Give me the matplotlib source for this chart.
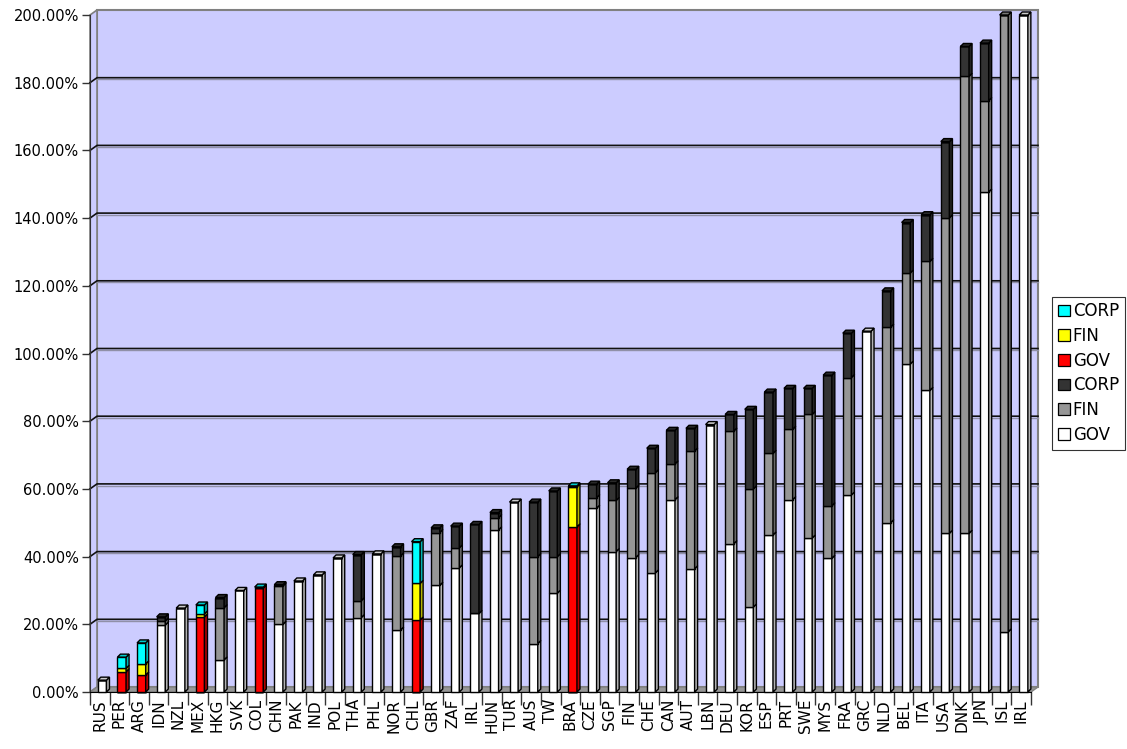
import numpy as np
import matplotlib
matplotlib.use("Agg")
import matplotlib.pyplot as plt
from matplotlib.patches import Polygon, Rectangle, Patch
from matplotlib.colors import to_rgb

plt.rcParams['font.family'] = ['DejaVu Sans']

#%% data (percent)
countries = ["RUS", "PER", "ARG", "IDN", "NZL", "MEX", "HKG", "SVK", "COL", "CHN",
             "PAK", "IND", "POL", "THA", "PHL", "NOR", "CHL", "GBR", "ZAF", "IRL",
             "HUN", "TUR", "AUS", "TW", "BRA", "CZE", "SGP", "FIN", "CHE", "CAN",
             "AUT", "LBN", "DEU", "KOR", "ESP", "PRT", "SWE", "MYS", "FRA", "GRC",
             "NLD", "BEL", "ITA", "USA", "DNK", "JPN", "ISL", "IRL"]

gov = [3.5, 0, 0, 19.8, 24.8, 0, 9.5, 30.0, 0, 20.0,
       32.8, 34.6, 39.6, 22.0, 40.8, 18.3, 0, 31.5, 36.7, 23.2,
       47.9, 56.1, 14.3, 29.2, 0, 54.3, 41.5, 39.7, 35.2, 56.8,
       36.4, 79.0, 43.8, 25.1, 46.4, 56.8, 45.5, 39.5, 58.2, 106.6,
       50.0, 96.9, 89.1, 46.9, 46.9, 147.7, 17.8, 200.0]
fin = [0, 0, 0, 1.2, 0, 0, 15.4, 0, 0, 11.3,
       0, 0, 0, 5.0, 0, 21.9, 0, 15.6, 5.9, 0,
       3.6, 0, 25.7, 10.8, 0, 3.1, 15.1, 20.5, 29.6, 10.6,
       34.8, 0, 33.3, 34.9, 24.1, 20.8, 36.5, 15.5, 34.7, 0,
       57.8, 26.9, 38.1, 93.2, 135.0, 27.0, 182.2, 0]
corp = [0, 0, 0, 1.2, 0, 0, 3.0, 0, 0, 0.4,
        0, 0, 0, 13.6, 0, 2.7, 0, 1.4, 6.4, 26.3,
        1.5, 0, 16.1, 19.4, 0, 4.0, 5.2, 5.6, 7.2, 9.9,
        6.7, 0, 4.9, 23.5, 18.1, 12.1, 7.7, 38.6, 13.1, 0,
        10.7, 14.9, 13.8, 22.5, 8.8, 17.0, 0, 0]

# highlighted countries
gov_hl = [0, 6.0, 5.0, 0, 0, 22.2, 0, 0, 30.7, 0,
          0, 0, 0, 0, 0, 0, 21.3, 0, 0, 0,
          0, 0, 0, 0, 48.8, 0, 0, 0, 0, 0,
          0, 0, 0, 0, 0, 0, 0, 0, 0, 0,
          0, 0, 0, 0, 0, 0, 0, 0]
fin_hl = [0, 1.0, 3.3, 0, 0, 0.9, 0, 0, 0, 0,
          0, 0, 0, 0, 0, 0, 10.8, 0, 0, 0,
          0, 0, 0, 0, 11.8, 0, 0, 0, 0, 0,
          0, 0, 0, 0, 0, 0, 0, 0, 0, 0,
          0, 0, 0, 0, 0, 0, 0, 0]
corp_hl = [0, 3.3, 6.2, 0, 0, 2.6, 0, 0, 0.3, 0,
           0, 0, 0, 0, 0, 0, 12.3, 0, 0, 0,
           0, 0, 0, 0, 0.3, 0, 0, 0, 0, 0,
           0, 0, 0, 0, 0, 0, 0, 0, 0, 0,
           0, 0, 0, 0, 0, 0, 0, 0]

series = [("GOV", gov, "#FFFFFF"), ("FIN", fin, "#969696"), ("CORP", corp, "#333333"),
          ("GOV", gov_hl, "#FF0000"), ("FIN", fin_hl, "#FFFF00"), ("CORP", corp_hl, "#00FFFF")]

#%% figure
fig = plt.figure(figsize=(11.27, 7.49), dpi=100)
W, H = 1127, 749
ax = fig.add_axes([90 / W, (H - 692) / H, 941 / W, 677 / H])
n = len(countries)
ax.set_xlim(-0.5, n - 0.5)
ax.set_ylim(0, 200)

# pixel -> data conversion
px_x = (n) / 941.0
px_y = 200 / 677.0
ox, oy = 7 * px_x, 5 * px_y      # wall depth
ddx, ddy = 3 * px_x, 3 * px_y    # bar depth

wall = "#CCCCFF"
ax.add_patch(Rectangle((-0.5 + ox, oy), n, 200, fc=wall, ec="#808080", lw=1.5,
                       zorder=0, clip_on=False))
ax.add_patch(Polygon([(-0.5, 0), (-0.5 + ox, oy), (-0.5 + ox, 200 + oy), (-0.5, 200)],
                     closed=True, fc=wall, ec="#808080", lw=1.2, zorder=0.5, clip_on=False))
ax.add_patch(Polygon([(-0.5, 0), (n - 0.5, 0), (n - 0.5 + ox, oy), (-0.5 + ox, oy)],
                     closed=True, fc="#969696", ec="#808080", lw=1, zorder=0.5, clip_on=False))

for v in range(20, 200, 20):
    ax.plot([-0.5 + ox, n - 0.5 + ox], [v + oy - 0.5, v + oy - 0.5], color="#9090a8",
            lw=1.0, zorder=0.8, clip_on=False)
    ax.plot([-0.5, -0.5 + ox, n - 0.5 + ox], [v, v + oy, v + oy], color="#111111",
            lw=1.2, zorder=1, clip_on=False)


def shade(c, f):
    r, g, b = to_rgb(c)
    return (r * f, g * f, b * f)


x = np.arange(n)
w = 0.44
xc = x + 0.12
bottom = np.zeros(n)
top_color = [None] * n
for name, vals, col in series:
    vals = np.array(vals, dtype=float)
    ax.bar(xc, vals, w, bottom=bottom, color=col, edgecolor="black", lw=1.0,
           zorder=3, clip_on=False)
    for i in range(n):
        if vals[i] <= 0:
            continue
        x1 = xc[i] + w / 2
        b0, b1 = bottom[i], bottom[i] + vals[i]
        ax.add_patch(Polygon([(x1, b0), (x1 + ddx, b0 + ddy), (x1 + ddx, b1 + ddy), (x1, b1)],
                             closed=True, fc=shade(col, 0.7), ec="black", lw=1.0,
                             zorder=3, clip_on=False))
        top_color[i] = col
    bottom = bottom + vals

for i in range(n):
    x0, x1 = xc[i] - w / 2, xc[i] + w / 2
    t = bottom[i]
    ax.add_patch(Polygon([(x0, t), (x0 + ddx, t + ddy), (x1 + ddx, t + ddy), (x1, t)],
                         closed=True, fc=shade(top_color[i], 0.8), ec="black", lw=1.0,
                         zorder=3.5, clip_on=False))

#%% axes styling
for s in ["top", "right"]:
    ax.spines[s].set_visible(False)
ax.spines["left"].set_color("#333333")
ax.spines["bottom"].set_color("black")
ax.spines["left"].set_zorder(2)

yt = np.arange(0, 201, 20)
ax.set_yticks(yt)
ax.set_yticklabels([f"{v:.2f}%" for v in yt], fontsize=10.5)
ax.tick_params(axis="y", length=6, width=1, color="#333333", pad=2)

ax.set_xticks(x)
ax.set_xticklabels(countries, rotation=90, fontsize=11)
ax.set_xticks(np.arange(n + 1) - 0.5, minor=True)
ax.tick_params(axis="x", which="major", length=0, pad=5)
ax.tick_params(axis="x", which="minor", length=9, width=1, color="#333333")

handles = [Patch(fc=c, ec="black", lw=0.9, label=nm) for nm, _, c in series][::-1]
leg = fig.legend(handles=handles, loc="center left", bbox_to_anchor=(1052 / W, 1 - 373 / H),
                 fontsize=12, frameon=True, fancybox=False, edgecolor="black",
                 handlelength=0.7, handleheight=0.7, handletextpad=0.2,
                 labelspacing=0.4, borderpad=0.35, borderaxespad=0)
leg.get_frame().set_linewidth(0.8)

fig.savefig("out.png", dpi=100)
